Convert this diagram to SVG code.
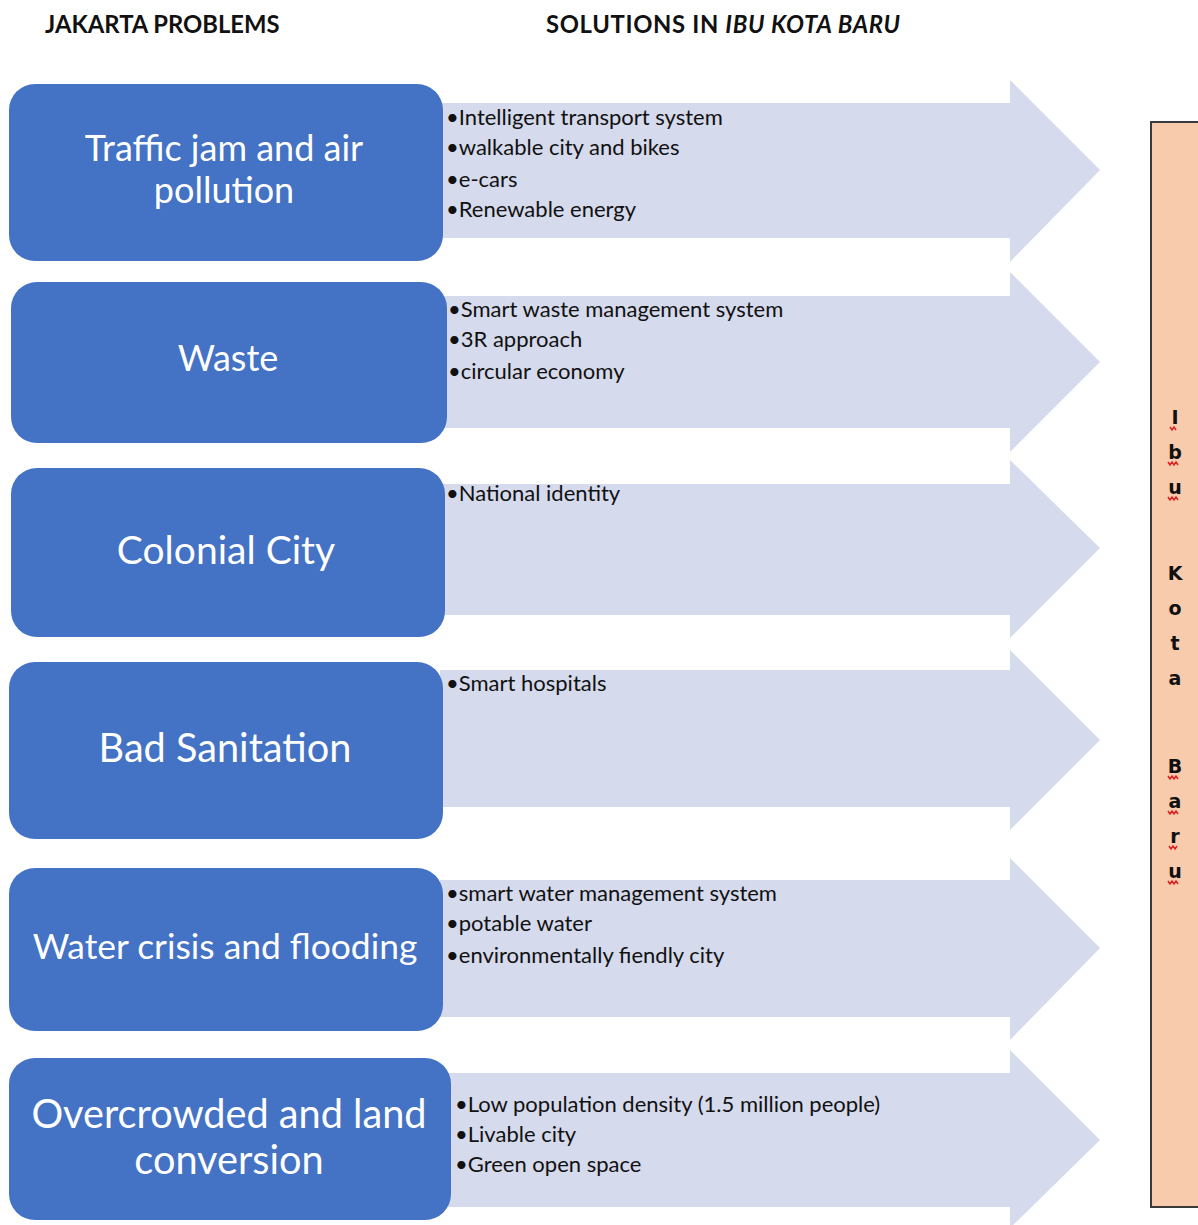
<svg xmlns="http://www.w3.org/2000/svg" width="1198" height="1225" viewBox="0 0 1198 1225">
<style>
.hdr{font-family:Lato,"Open Sans",sans-serif;font-weight:bold;font-size:23.8px;fill:#111}
.arrow{fill:#D5DAEC}
.box{fill:#4472C4}
.bt{font-family:Lato,"Open Sans",sans-serif;font-size:36px;fill:#fff;text-anchor:middle}
.bt2{font-family:Lato,"Open Sans",sans-serif;font-size:39.7px;fill:#fff;text-anchor:middle}
.bl{font-family:Lato,"Open Sans",sans-serif;font-size:22px;fill:#111}
.vl{font-family:"DejaVu Sans",Verdana,sans-serif;font-weight:bold;font-size:19px;fill:#111;text-anchor:middle}
.sq{fill:none;stroke:#e02020;stroke-width:1.5}
</style>
<rect width="1198" height="1225" fill="#fff"/>
<text class="hdr" x="45" y="33">JAKARTA PROBLEMS</text>
<text class="hdr" x="546" y="33" textLength="354">SOLUTIONS IN <tspan font-style="italic">IBU KOTA BARU</tspan></text>

<g id="connectors">
<path class="arrow" d="M440 103 H1010 V80 L1100 170 L1010 262 V238 H440 Z"/>
<path class="arrow" d="M444 296 H1010 V272 L1100 362 L1010 452 V428 H444 Z"/>
<path class="arrow" d="M442 484 H1010 V460 L1100 548 L1010 638 V615 H442 Z"/>
<path class="arrow" d="M440 670 H1010 V650 L1100 740 L1010 830 V807 H440 Z"/>
<path class="arrow" d="M440 880 H1010 V858 L1100 948 L1010 1040 V1017 H440 Z"/>
<path class="arrow" d="M448 1073 H1010 V1050 L1100 1140 L1010 1228 V1207 H448 Z"/>
</g>

<g id="sol1">
<text class="bl" x="446" y="125">•Intelligent transport system</text>
<text class="bl" x="446" y="155">•walkable city and bikes</text>
<text class="bl" x="446" y="187">•e-cars</text>
<text class="bl" x="446" y="217">•Renewable energy</text>
</g>
<g id="sol2">
<text class="bl" x="448" y="317">•Smart waste management system</text>
<text class="bl" x="448" y="347">•3R approach</text>
<text class="bl" x="448" y="379">•circular economy</text>
</g>
<g id="sol3"><text class="bl" x="446" y="501">•National identity</text></g>
<g id="sol4"><text class="bl" x="446" y="691">•Smart hospitals</text></g>
<g id="sol5">
<text class="bl" x="446" y="901">•smart water management system</text>
<text class="bl" x="446" y="931">•potable water</text>
<text class="bl" x="446" y="963">•environmentally fiendly city</text>
</g>
<g id="sol6">
<text class="bl" x="455" y="1112">•Low population density (1.5 million people)</text>
<text class="bl" x="455" y="1142">•Livable city</text>
<text class="bl" x="455" y="1172">•Green open space</text>
</g>

<g id="p1"><rect class="box" x="9" y="84" width="434" height="177" rx="26"/>
<text class="bt" x="224" y="161">Traffic jam and air</text><text class="bt" x="224" y="203">pollution</text></g>
<g id="p2"><rect class="box" x="11" y="282" width="436" height="161" rx="26"/>
<text class="bt" x="228" y="371">Waste</text></g>
<g id="p3"><rect class="box" x="11" y="468" width="434" height="169" rx="26"/>
<text class="bt2" x="226" y="564" style="font-size:39px">Colonial City</text></g>
<g id="p4"><rect class="box" x="9" y="662" width="434" height="177" rx="26"/>
<text class="bt2" x="225" y="762">Bad Sanitation</text></g>
<g id="p5"><rect class="box" x="9" y="868" width="434" height="163" rx="26"/>
<text class="bt" x="225" y="959" style="font-size:35.4px">Water crisis and flooding</text></g>
<g id="p6"><rect class="box" x="9" y="1058" width="442" height="162" rx="26"/>
<text class="bt2" x="229" y="1128">Overcrowded and land</text><text class="bt2" x="229" y="1174">conversion</text></g>

<g id="ibu">
<rect x="1151" y="122" width="50" height="1085" fill="#F8CBAD" stroke="#3a3a3a" stroke-width="2"/>
<text class="vl" x="1175" y="424">I</text>
<text class="vl" x="1175" y="459">b</text>
<text class="vl" x="1175" y="494">u</text>
<text class="vl" x="1175" y="580">K</text>
<text class="vl" x="1175" y="615">o</text>
<text class="vl" x="1175" y="650">t</text>
<text class="vl" x="1175" y="685">a</text>
<text class="vl" x="1175" y="773">B</text>
<text class="vl" x="1175" y="808">a</text>
<text class="vl" x="1175" y="843">r</text>
<text class="vl" x="1175" y="878">u</text>
<path class="sq" d="M1170 427 l2 3 l2 -3 l2 3"/>
<path class="sq" d="M1168 462 l2 3 l2 -3 l2 3 l2 -3 l2 3"/>
<path class="sq" d="M1168 497 l2 3 l2 -3 l2 3 l2 -3 l2 3"/>
<path class="sq" d="M1168 776 l2 3 l2 -3 l2 3 l2 -3 l2 3"/>
<path class="sq" d="M1168 811 l2 3 l2 -3 l2 3 l2 -3 l2 3"/>
<path class="sq" d="M1169 846 l2 3 l2 -3 l2 3 l2 -3"/>
<path class="sq" d="M1168 881 l2 3 l2 -3 l2 3 l2 -3 l2 3"/>
</g>
</svg>
